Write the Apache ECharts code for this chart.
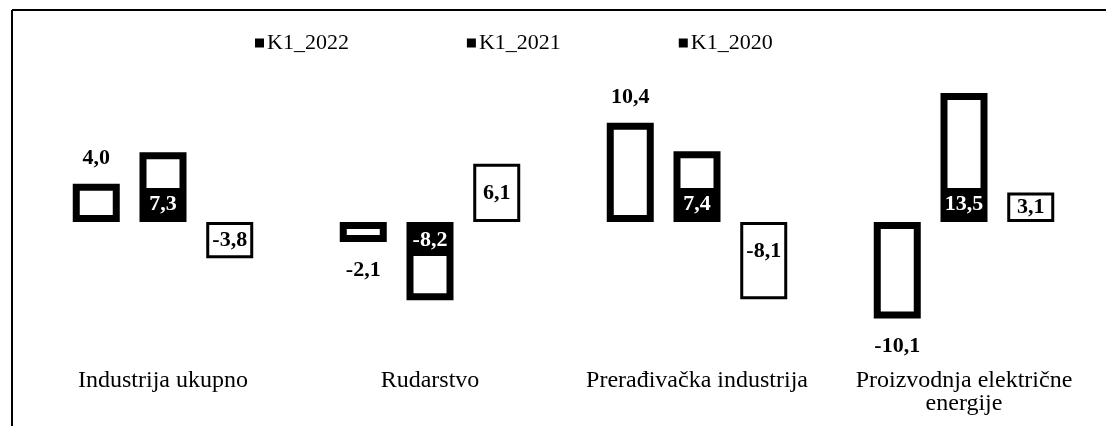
<!DOCTYPE html>
<html>
<head>
<meta charset="utf-8">
<script src="https://cdn.jsdelivr.net/npm/echarts@6/dist/echarts.min.js"></script>
<style>
  html, body { margin: 0; padding: 0; background: #fff; }
  #chart { width: 1106px; height: 426px; }
</style>
</head>
<body>
<div id="chart"></div>
<script>
// data
var categories = ["Industrija ukupno", "Rudarstvo", "Prerađivačka industrija", "Proizvodnja električne\nenergije"];
var seriesNames = ["K1_2022", "K1_2021", "K1_2020"];
var k1_2022 = [4.0, -2.1, 10.4, -10.1];
var k1_2021 = [7.3, -8.2, 7.4, 13.5];
var k1_2020 = [-3.8, 6.1, -8.1, 3.1];

var serif = "Liberation Serif";

function fmt(v) {
  return v.toFixed(1).replace(".", ",");
}

var myChart = echarts.init(document.getElementById("chart"));

var option = {
  animation: false,
  backgroundColor: "#fff",
  legend: {
    left: 250,
    top: 27,
    itemGap: 118,
    itemWidth: 9,
    itemHeight: 9,
    icon: "rect",
    textStyle: { fontFamily: serif, fontSize: 22, color: "#000", padding: [0, 0, 0, -2] },
    data: seriesNames.map(function (n) {
      return { name: n, itemStyle: { color: "#000", borderWidth: 0 } };
    }),
  },
  grid: { left: 29.5, right: 8.5, top: 69.2, bottom: 89.4 },
  xAxis: {
    type: "category",
    data: categories,
    axisLine: { show: false, onZero: false },
    axisTick: { show: false },
    axisLabel: {
      interval: 0,
      margin: 33,
      fontFamily: serif,
      fontSize: 24,
      lineHeight: 23,
      color: "#000",
    },
  },
  yAxis: { type: "value", min: -12, max: 16, show: false },
  series: [
    {
      name: seriesNames[0],
      type: "bar",
      barWidth: 47,
      barGap: "42%",
      itemStyle: { color: "#fff", borderColor: "#000", borderWidth: 7 },
      label: {
        show: true,
        fontFamily: serif,
        fontWeight: "bold",
        fontSize: 22,
        color: "#000",
        formatter: function (p) { return fmt(p.value); },
      },
      data: k1_2022.map(function (v) {
        return { value: v, label: v >= 0 ? { position: "top", distance: 14 } : { position: "bottom", distance: 17 } };
      }),
    },
    {
      name: seriesNames[1],
      type: "bar",
      barWidth: 47,
      itemStyle: { color: "#fff", borderColor: "#000", borderWidth: 7 },
      label: {
        show: true,
        distance: 2,
        fontFamily: serif,
        fontWeight: "bold",
        fontSize: 22,
        color: "#fff",
        backgroundColor: "#000",
        width: 42,
        height: 32,
        lineHeight: 32,
        align: "center",
        formatter: function (p) { return fmt(p.value); },
      },
      data: k1_2021.map(function (v) {
        return { value: v, label: { position: v >= 0 ? "insideBottom" : "insideTop" } };
      }),
    },
    {
      name: seriesNames[2],
      type: "bar",
      barWidth: 47,
      itemStyle: { color: "#fff", borderColor: "#000", borderWidth: 3 },
      label: {
        show: true,
        fontFamily: serif,
        fontWeight: "bold",
        fontSize: 22,
        color: "#000",
        formatter: function (p) { return fmt(p.value); },
      },
      data: k1_2020.map(function (v) {
        return { value: v, label: v < -5 ? { position: "insideTop", distance: 18 } : { position: "inside" } };
      }),
    },
  ],
  // frame lines of the scanned box
  graphic: [
    { type: "line", shape: { x1: 12, y1: 10, x2: 1106, y2: 10 }, style: { stroke: "#000", lineWidth: 2 } },
    { type: "line", shape: { x1: 12, y1: 10, x2: 12, y2: 426 }, style: { stroke: "#000", lineWidth: 2 } },
  ],
};

myChart.setOption(option);
</script>
</body>
</html>
